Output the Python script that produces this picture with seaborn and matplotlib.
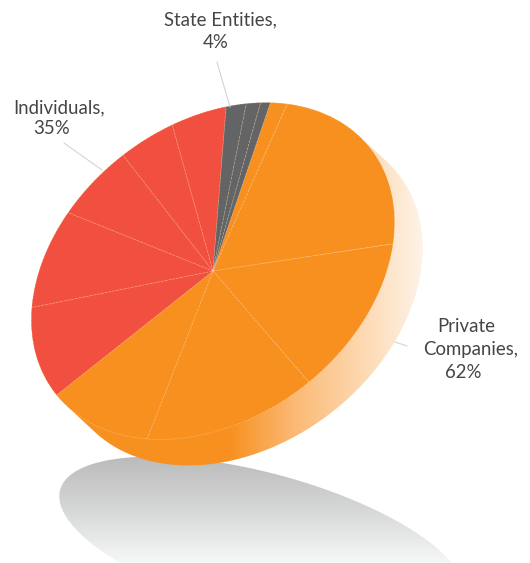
import numpy as np
import matplotlib
matplotlib.use("Agg")
import matplotlib.pyplot as plt
from matplotlib.patches import PathPatch
from matplotlib.path import Path
from matplotlib.transforms import Affine2D
import seaborn as sns

# Slice values in drawing order; each group adds up to its labelled share
private_slices = [1.6, 20.6, 14.2, 14.9, 10.7]
individual_slices = [9.8, 9.2, 6.5, 4.7, 4.8]
state_slices = [1.8, 1.3, 0.9]

orange = "#F7901E"
red = "#F14F3F"
grey = "#636466"
text_colour = "#454547"
leader_colour = "#D2D4D6"
label_font = "Lato"

sns.set_theme(style="white")
plt.rcParams["font.family"] = [label_font, "DejaVu Sans"]

fig = plt.figure(figsize=(5.3, 5.63), dpi=100)
ax = fig.add_axes([0, 0, 1, 1])
W, H = 530, 563


def set_canvas():
    ax.set_aspect("auto")
    ax.set_xlim(0, W)
    ax.set_ylim(H, 0)
    ax.axis("off")


# Tilted disc: unit circle stretched along two perpendicular axes
hub = np.array([213.0, 271.0])
major = np.array([0.79, -0.61]) * 200
minor = np.array([0.61, 0.79]) * 147
tilt = Affine2D(np.array([[major[0], minor[0], hub[0]],
                          [major[1], minor[1], hub[1]],
                          [0, 0, 1]]))
depth = np.array([28.0, 26.0])


def convex_hull(points):
    pts = sorted(map(tuple, points))

    def half(seq):
        out = []
        for p in seq:
            while len(out) > 1:
                a, b = np.array(out[-2]), np.array(out[-1])
                d1, d2 = b - a, np.array(p) - a
                if d1[0] * d2[1] - d1[1] * d2[0] > 0:
                    break
                out.pop()
            out.append(p)
        return out[:-1]

    return np.array(half(pts) + half(pts[::-1]))


t = np.linspace(0, 2 * np.pi, 361)
circle = np.column_stack([np.cos(t), np.sin(t)])
rim = tilt.transform(circle)
hull = convex_hull(np.vstack([rim, rim + depth]))

# Disc side: orange fading out towards the right
side_cmap = sns.blend_palette([orange, "#FBB872", "#FDD6AC", "#FEF2E6"], as_cmap=True)
xgrad = np.clip((np.linspace(0, W, 530) - 228) / (421 - 228), 0, 1)[None, :]
side = ax.imshow(xgrad, cmap=side_cmap, vmin=0, vmax=1, extent=(0, W, H, 0), zorder=2, aspect="auto")
side.set_clip_path(PathPatch(Path(np.vstack([hull, hull[:1]])), transform=ax.transData))

# Ground shadow below the disc
shadow_cmap = sns.blend_palette(["#BBBBBB", "#D6D7D7", "#F6F7F7"], as_cmap=True)
ygrad = np.clip((np.linspace(0, H, 563) - 457) / (563 - 457), 0, 1)[:, None]
shadow = ax.imshow(ygrad, cmap=shadow_cmap, vmin=0, vmax=1, extent=(0, W, H, 0), zorder=1, aspect="auto")
shadow_angle = np.radians(15)
sx = 209 * np.cos(t) * np.cos(shadow_angle) - 71 * np.sin(t) * np.sin(shadow_angle) + 262
sy = 209 * np.cos(t) * np.sin(shadow_angle) + 71 * np.sin(t) * np.cos(shadow_angle) + 544
shadow.set_clip_path(PathPatch(Path(np.column_stack([sx, sy])), transform=ax.transData))

# Pie slices
values = private_slices + individual_slices + state_slices
colours = [orange] * len(private_slices) + [red] * len(individual_slices) + [grey] * len(state_slices)
wedges, _ = ax.pie(
    values,
    colors=colours,
    startangle=-42,
    counterclock=True,
    wedgeprops={"edgecolor": (1, 1, 1, 0.3), "linewidth": 0.5, "linestyle": (0, (4, 1.5))},
)
for wedge in wedges:
    wedge.set_transform(tilt + ax.transData)
    wedge.set_zorder(3)
set_canvas()

# Leader lines
for xs, ys in [((217, 230), (62, 107)), ((64, 102), (143, 170)), ((395, 407), (342, 346))]:
    ax.plot(xs, ys, color=leader_colour, lw=0.8, zorder=4)

# Group labels
label_style = dict(color=text_colour, fontsize=13.4, ha="center", va="center", zorder=5)
for x, y, line in [(220, 20, "State Entities,"), (216, 42, "4%"),
                   (59, 108, "Individuals,"), (52, 129, "35%"),
                   (466, 327, "Private"), (471, 350, "Companies,"), (463, 373, "62%")]:
    ax.text(x, y, line, **label_style)

fig.savefig("out.png", dpi=100)
